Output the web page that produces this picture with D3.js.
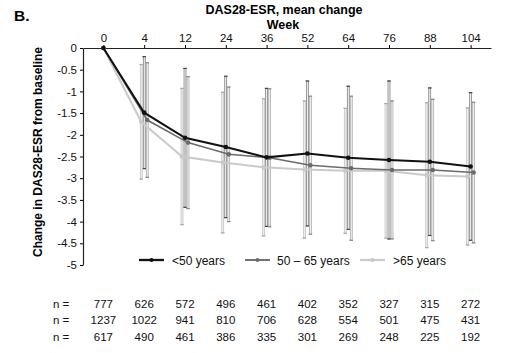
<!DOCTYPE html>
<html lang="en">
<head>
<meta charset="utf-8">
<script src="https://d3js.org/d3.v7.min.js"></script>
<style>
  body { margin: 0; background: #fff; }
  svg { display: block; font-family: "Liberation Sans", Arial, sans-serif; }
</style>
</head>
<body>
<svg id="chart" width="506" height="353"></svg>
<script>
// weeks on the top axis
const weeks = ["0", "4", "12", "24", "36", "52", "64", "76", "88", "104"];
const yTicks = [0, -0.5, -1, -1.5, -2, -2.5, -3, -3.5, -4, -4.5, -5];

// mean change per group
const under50 = [0, -1.49, -2.07, -2.28, -2.52, -2.43, -2.53, -2.58, -2.62, -2.73];
const mid50to65 = [0, -1.66, -2.18, -2.45, -2.53, -2.70, -2.77, -2.81, -2.81, -2.87];
const over65 = [0, -1.70, -2.50, -2.64, -2.75, -2.80, -2.83, -2.83, -2.93, -2.96];

// standard deviations (error bars)
const sdUnder50 = [0, 1.29, 1.60, 1.63, 1.59, 1.67, 1.65, 1.82, 1.70, 1.70];
const sdMid = [0, 1.32, 1.52, 1.55, 1.59, 1.59, 1.66, 1.59, 1.63, 1.62];
const sdOver65 = [0, 1.32, 1.57, 1.62, 1.58, 1.58, 1.44, 1.55, 1.67, 1.58];

// patient numbers
const nUnder50 = [777, 626, 572, 496, 461, 402, 352, 327, 315, 272];
const nMid = [1237, 1022, 941, 810, 706, 628, 554, 501, 475, 431];
const nOver65 = [617, 490, 461, 386, 335, 301, 269, 248, 225, 192];

const groups = [
  { name: "<50 years", mean: under50, sd: sdUnder50, color: "#111", barColor: "#444", width: 2, off: 0 },
  { name: "50 \u2013 65 years", mean: mid50to65, sd: sdMid, color: "#6b6b6b", barColor: "#888", width: 1.6, off: 3 },
  { name: ">65 years", mean: over65, sd: sdOver65, color: "#cacaca", barColor: "#aaa", width: 2, off: -3 }
];

const svg = d3.select("#chart");

const x = d3.scalePoint().domain(weeks).range([83, 491]).padding(0.5);
const y = d3.scaleLinear().domain([-5, 0]).range([265, 48]);

// titles
svg.append("text").attr("x", 14).attr("y", 21)
  .attr("font-size", 15.5).attr("font-weight", "bold").text("B.");
svg.append("text").attr("x", 284).attr("y", 14).attr("text-anchor", "middle")
  .attr("font-size", 12.5).attr("font-weight", "bold").text("DAS28-ESR, mean change");
svg.append("text").attr("x", 283).attr("y", 29).attr("text-anchor", "middle")
  .attr("font-size", 12.5).attr("font-weight", "bold").text("Week");
svg.append("text")
  .attr("transform", "translate(42,152) rotate(-90)")
  .attr("text-anchor", "middle")
  .attr("font-size", 12).attr("font-weight", "bold")
  .text("Change in DAS28-ESR from baseline");

// axes
const xAxis = svg.append("g").attr("transform", "translate(0,48)")
  .call(d3.axisTop(x).tickSizeInner(3).tickSizeOuter(0).tickPadding(3));
xAxis.selectAll("text").attr("font-size", 11.5).attr("fill", "#111");

const yAxis = svg.append("g").attr("transform", "translate(83,0)")
  .call(d3.axisLeft(y).tickValues(yTicks).tickSizeInner(3).tickSizeOuter(0)
    .tickPadding(3).tickFormat(d => String(d)));
yAxis.selectAll("text").attr("font-size", 11.5).attr("fill", "#111");
svg.selectAll(".domain").attr("stroke", "#222").attr("stroke-width", 1.2);

// error bars
groups.forEach(g => {
  const eb = svg.append("g");
  weeks.forEach((w, i) => {
    if (g.sd[i] === 0) return;
    const cx = x(w) + g.off;
    const top = y(g.mean[i] + g.sd[i]);
    const bot = y(g.mean[i] - g.sd[i]);
    eb.append("rect").attr("x", cx - 1).attr("y", top).attr("width", 2).attr("height", bot - top)
      .attr("fill", "#ececec").attr("stroke", g.barColor).attr("stroke-width", 0.5);
    [top, bot].forEach(v => {
      eb.append("line").attr("x1", cx - 1.8).attr("x2", cx + 1.8).attr("y1", v).attr("y2", v)
        .attr("stroke", g.barColor).attr("stroke-width", 1.2);
    });
  });
});

// mean lines, light first so dark stays on top
[groups[2], groups[1], groups[0]].forEach(g => {
  const pts = weeks.map((w, i) => [x(w) + (i === 0 ? 0 : g.off), y(g.mean[i])]);
  svg.append("path").attr("d", d3.line()(pts))
    .attr("fill", "none").attr("stroke", g.color).attr("stroke-width", g.width);
  svg.append("g").selectAll("circle").data(pts).enter().append("circle")
    .attr("cx", d => d[0]).attr("cy", d => d[1]).attr("r", 2.3).attr("fill", g.color);
});

// legend
const legX = [139, 245, 360];
const legTextX = [172, 277, 393];
groups.forEach((g, i) => {
  svg.append("line").attr("x1", legX[i]).attr("x2", legX[i] + 25).attr("y1", 260).attr("y2", 260)
    .attr("stroke", g.color).attr("stroke-width", g.width + 0.3);
  svg.append("circle").attr("cx", legX[i] + 12.5).attr("cy", 260).attr("r", 2).attr("fill", g.color);
  svg.append("text").attr("x", legTextX[i]).attr("y", 264.5).attr("font-size", 12)
    .attr("fill", "#111").text(g.name);
});

// n table
[nUnder50, nMid, nOver65].forEach((row, r) => {
  const yy = 307.5 + r * 16.5;
  svg.append("text").attr("x", 53).attr("y", yy).attr("font-size", 11.5).attr("fill", "#111").text("n =");
  svg.append("g").selectAll("text").data(row).enter().append("text")
    .attr("x", (d, i) => x(weeks[i]))
    .attr("y", yy).attr("text-anchor", "middle").attr("font-size", 11.5).attr("fill", "#111")
    .text(d => d);
});
</script>
</body>
</html>
